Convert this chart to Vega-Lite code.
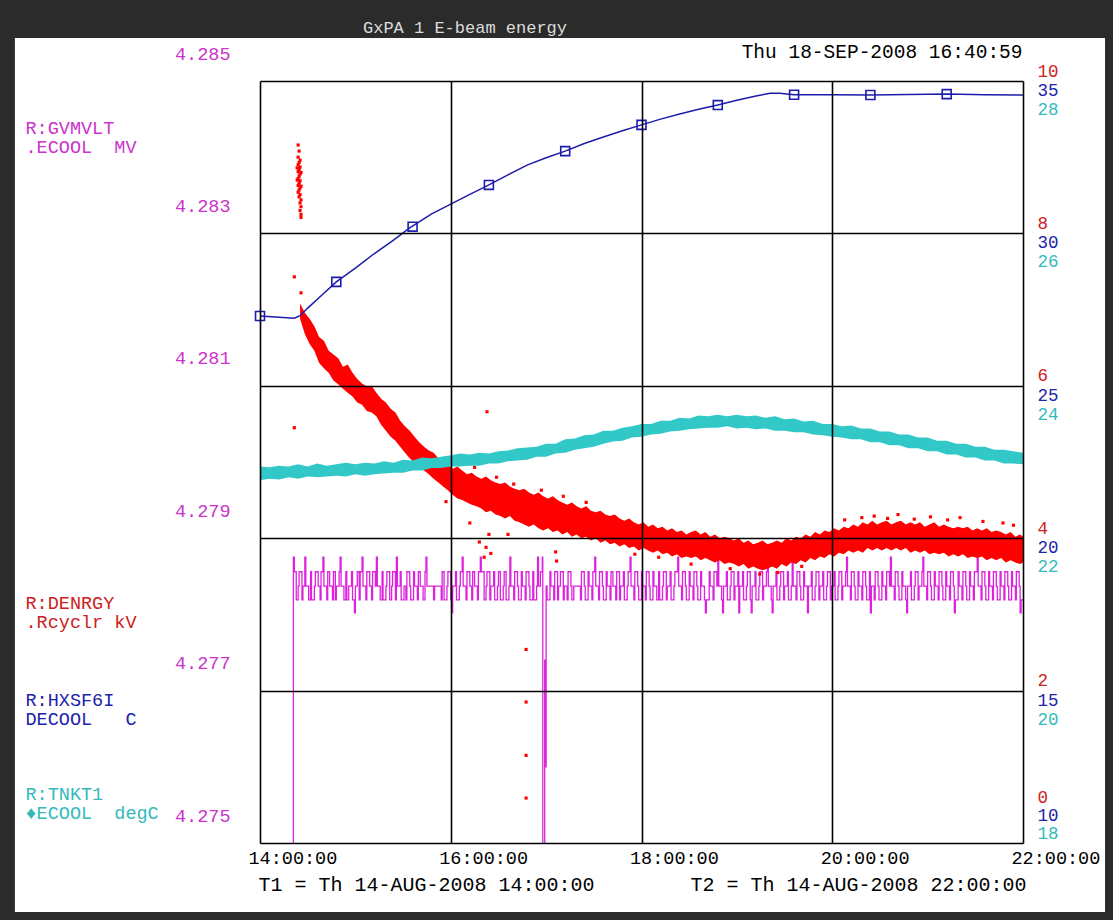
{
"$schema": "https://vega.github.io/schema/vega-lite/v6.json",
"width": 763, "height": 762,
"autosize": {"type": "none"},
"padding": {"left": 260, "top": 81, "right": 90, "bottom": 77},
"background": "#2b2b2b",
"config": {"view": {"stroke": null}, "axis": {"titleFontWeight": "normal", "labelFontWeight": "normal"}},
"datasets": {
"mv": [
{"t":14.34,"v":4.274},{"t":14.35,"v":4.27875},{"t":14.36,"v":4.27856},{"t":14.38,"v":4.27819},{"t":14.40,"v":4.27837},{"t":14.41,"v":4.27856},{"t":14.44,"v":4.27819},{"t":14.45,"v":4.27837},{"t":14.47,"v":4.27875},{"t":14.48,"v":4.27837},{"t":14.51,"v":4.27819},{"t":14.53,"v":4.27856},{"t":14.54,"v":4.27819},{"t":14.57,"v":4.27837},{"t":14.58,"v":4.27856},{"t":14.61,"v":4.27837},{"t":14.63,"v":4.27819},{"t":14.64,"v":4.27856},{"t":14.66,"v":4.27875},{"t":14.67,"v":4.27837},{"t":14.70,"v":4.27819},{"t":14.71,"v":4.27856},{"t":14.73,"v":4.27837},{"t":14.76,"v":4.27819},{"t":14.77,"v":4.27856},{"t":14.79,"v":4.27819},{"t":14.80,"v":4.27837},{"t":14.83,"v":4.27856},{"t":14.84,"v":4.27875},{"t":14.85,"v":4.27837},{"t":14.88,"v":4.27819},{"t":14.90,"v":4.27856},{"t":14.91,"v":4.27819},{"t":14.93,"v":4.27837},{"t":14.96,"v":4.27856},{"t":14.97,"v":4.27819},{"t":14.99,"v":4.27802},{"t":15.00,"v":4.27837},{"t":15.02,"v":4.27856},{"t":15.04,"v":4.27819},{"t":15.05,"v":4.27856},{"t":15.07,"v":4.27875},{"t":15.08,"v":4.27837},{"t":15.11,"v":4.27819},{"t":15.12,"v":4.27856},{"t":15.15,"v":4.27837},{"t":15.17,"v":4.27819},{"t":15.18,"v":4.27856},{"t":15.21,"v":4.27837},{"t":15.22,"v":4.27875},{"t":15.23,"v":4.27837},{"t":15.26,"v":4.27819},{"t":15.28,"v":4.27856},{"t":15.29,"v":4.27819},{"t":15.32,"v":4.27837},{"t":15.33,"v":4.27856},{"t":15.36,"v":4.27819},{"t":15.38,"v":4.27837},{"t":15.39,"v":4.27856},{"t":15.42,"v":4.27819},{"t":15.43,"v":4.27875},{"t":15.44,"v":4.27837},{"t":15.47,"v":4.27856},{"t":15.48,"v":4.27819},{"t":15.51,"v":4.27837},{"t":15.53,"v":4.27819},{"t":15.54,"v":4.27856},{"t":15.57,"v":4.27837},{"t":15.58,"v":4.27819},{"t":15.61,"v":4.27856},{"t":15.62,"v":4.27837},{"t":15.65,"v":4.27819},{"t":15.66,"v":4.27856},{"t":15.68,"v":4.27837},{"t":15.71,"v":4.27819},{"t":15.73,"v":4.27856},{"t":15.74,"v":4.27875},{"t":15.75,"v":4.27837},{"t":15.82,"v":4.27819},{"t":15.83,"v":4.27837},{"t":15.90,"v":4.27819},{"t":15.91,"v":4.27856},{"t":15.93,"v":4.27819},{"t":15.96,"v":4.27837},{"t":15.97,"v":4.27856},{"t":16.00,"v":4.27819},{"t":16.01,"v":4.27802},{"t":16.02,"v":4.27837},{"t":16.05,"v":4.27856},{"t":16.06,"v":4.27819},{"t":16.09,"v":4.27837},{"t":16.10,"v":4.27856},{"t":16.12,"v":4.27875},{"t":16.13,"v":4.27837},{"t":16.16,"v":4.27819},{"t":16.17,"v":4.27856},{"t":16.20,"v":4.27837},{"t":16.22,"v":4.27819},{"t":16.23,"v":4.27856},{"t":16.25,"v":4.27837},{"t":16.28,"v":4.27819},{"t":16.29,"v":4.27856},{"t":16.31,"v":4.27875},{"t":16.32,"v":4.27856},{"t":16.35,"v":4.27819},{"t":16.37,"v":4.27837},{"t":16.38,"v":4.27856},{"t":16.41,"v":4.27819},{"t":16.42,"v":4.27837},{"t":16.45,"v":4.27856},{"t":16.46,"v":4.27819},{"t":16.49,"v":4.27837},{"t":16.50,"v":4.27856},{"t":16.52,"v":4.27819},{"t":16.55,"v":4.27837},{"t":16.56,"v":4.27856},{"t":16.58,"v":4.27819},{"t":16.61,"v":4.27837},{"t":16.62,"v":4.27875},{"t":16.63,"v":4.27837},{"t":16.66,"v":4.27819},{"t":16.67,"v":4.27856},{"t":16.70,"v":4.27837},{"t":16.71,"v":4.27819},{"t":16.74,"v":4.27856},{"t":16.75,"v":4.27837},{"t":16.78,"v":4.27819},{"t":16.79,"v":4.27856},{"t":16.82,"v":4.27837},{"t":16.83,"v":4.27819},{"t":16.86,"v":4.27856},{"t":16.87,"v":4.27819},{"t":16.90,"v":4.27837},{"t":16.91,"v":4.27875},{"t":16.92,"v":4.27837},{"t":16.94,"v":4.27856},{"t":16.96,"v":4.27875},{"t":16.965,"v":4.274},{"t":16.985,"v":4.2774},{"t":16.99,"v":4.276},{"t":17.00,"v":4.27837},{"t":17.01,"v":4.27819},{"t":17.04,"v":4.27856},{"t":17.05,"v":4.27837},{"t":17.08,"v":4.27819},{"t":17.09,"v":4.27856},{"t":17.12,"v":4.27819},{"t":17.13,"v":4.27837},{"t":17.15,"v":4.27856},{"t":17.18,"v":4.27819},{"t":17.19,"v":4.27837},{"t":17.22,"v":4.27819},{"t":17.23,"v":4.27856},{"t":17.26,"v":4.27837},{"t":17.27,"v":4.27819},{"t":17.29,"v":4.27837},{"t":17.36,"v":4.27819},{"t":17.37,"v":4.27856},{"t":17.40,"v":4.27837},{"t":17.41,"v":4.27819},{"t":17.44,"v":4.27856},{"t":17.45,"v":4.27837},{"t":17.48,"v":4.27819},{"t":17.49,"v":4.27856},{"t":17.51,"v":4.27875},{"t":17.52,"v":4.27837},{"t":17.55,"v":4.27819},{"t":17.56,"v":4.27856},{"t":17.59,"v":4.27837},{"t":17.60,"v":4.27819},{"t":17.63,"v":4.27856},{"t":17.64,"v":4.27837},{"t":17.67,"v":4.27819},{"t":17.68,"v":4.27856},{"t":17.70,"v":4.27837},{"t":17.73,"v":4.27819},{"t":17.74,"v":4.27856},{"t":17.77,"v":4.27819},{"t":17.78,"v":4.27837},{"t":17.81,"v":4.27856},{"t":17.82,"v":4.27819},{"t":17.85,"v":4.27837},{"t":17.86,"v":4.27856},{"t":17.88,"v":4.27875},{"t":17.89,"v":4.27837},{"t":17.92,"v":4.27819},{"t":17.93,"v":4.27856},{"t":17.96,"v":4.27837},{"t":17.97,"v":4.27819},{"t":18.00,"v":4.27856},{"t":18.01,"v":4.27837},{"t":18.04,"v":4.27819},{"t":18.05,"v":4.27856},{"t":18.08,"v":4.27837},{"t":18.09,"v":4.27819},{"t":18.12,"v":4.27856},{"t":18.13,"v":4.27837},{"t":18.16,"v":4.27819},{"t":18.18,"v":4.27856},{"t":18.19,"v":4.27819},{"t":18.22,"v":4.27837},{"t":18.23,"v":4.27856},{"t":18.26,"v":4.27819},{"t":18.27,"v":4.27837},{"t":18.30,"v":4.27856},{"t":18.31,"v":4.27819},{"t":18.34,"v":4.27837},{"t":18.35,"v":4.27856},{"t":18.38,"v":4.27875},{"t":18.39,"v":4.27837},{"t":18.42,"v":4.27819},{"t":18.43,"v":4.27856},{"t":18.46,"v":4.27837},{"t":18.47,"v":4.27819},{"t":18.50,"v":4.27856},{"t":18.51,"v":4.27837},{"t":18.54,"v":4.27819},{"t":18.55,"v":4.27856},{"t":18.58,"v":4.27837},{"t":18.59,"v":4.27819},{"t":18.62,"v":4.27856},{"t":18.63,"v":4.27837},{"t":18.66,"v":4.27819},{"t":18.67,"v":4.27802},{"t":18.68,"v":4.27819},{"t":18.71,"v":4.27856},{"t":18.72,"v":4.27837},{"t":18.75,"v":4.27819},{"t":18.76,"v":4.27856},{"t":18.79,"v":4.27837},{"t":18.80,"v":4.27875},{"t":18.81,"v":4.27837},{"t":18.84,"v":4.27819},{"t":18.85,"v":4.27802},{"t":18.86,"v":4.27837},{"t":18.89,"v":4.27856},{"t":18.90,"v":4.27819},{"t":18.93,"v":4.27837},{"t":18.94,"v":4.27856},{"t":18.97,"v":4.27819},{"t":18.98,"v":4.27837},{"t":19.01,"v":4.27856},{"t":19.02,"v":4.27802},{"t":19.03,"v":4.27837},{"t":19.06,"v":4.27856},{"t":19.07,"v":4.27819},{"t":19.10,"v":4.27837},{"t":19.11,"v":4.27856},{"t":19.14,"v":4.27819},{"t":19.15,"v":4.27802},{"t":19.16,"v":4.27837},{"t":19.19,"v":4.27856},{"t":19.20,"v":4.27819},{"t":19.23,"v":4.27837},{"t":19.24,"v":4.27856},{"t":19.27,"v":4.27819},{"t":19.28,"v":4.27837},{"t":19.31,"v":4.27856},{"t":19.32,"v":4.27875},{"t":19.33,"v":4.27837},{"t":19.36,"v":4.27819},{"t":19.37,"v":4.27802},{"t":19.38,"v":4.27837},{"t":19.41,"v":4.27856},{"t":19.42,"v":4.27819},{"t":19.45,"v":4.27837},{"t":19.46,"v":4.27856},{"t":19.49,"v":4.27819},{"t":19.50,"v":4.27837},{"t":19.53,"v":4.27856},{"t":19.54,"v":4.27819},{"t":19.57,"v":4.27837},{"t":19.58,"v":4.27875},{"t":19.59,"v":4.27837},{"t":19.62,"v":4.27819},{"t":19.63,"v":4.27856},{"t":19.66,"v":4.27837},{"t":19.67,"v":4.27819},{"t":19.70,"v":4.27856},{"t":19.71,"v":4.27837},{"t":19.74,"v":4.27802},{"t":19.75,"v":4.27837},{"t":19.78,"v":4.27856},{"t":19.79,"v":4.27819},{"t":19.82,"v":4.27837},{"t":19.83,"v":4.27856},{"t":19.86,"v":4.27819},{"t":19.87,"v":4.27837},{"t":19.90,"v":4.27856},{"t":19.91,"v":4.27819},{"t":19.94,"v":4.27837},{"t":19.95,"v":4.27856},{"t":19.98,"v":4.27819},{"t":19.99,"v":4.27837},{"t":20.02,"v":4.27856},{"t":20.03,"v":4.27819},{"t":20.06,"v":4.27837},{"t":20.07,"v":4.27856},{"t":20.10,"v":4.27819},{"t":20.11,"v":4.27837},{"t":20.14,"v":4.27856},{"t":20.15,"v":4.27875},{"t":20.16,"v":4.27837},{"t":20.19,"v":4.27819},{"t":20.20,"v":4.27856},{"t":20.23,"v":4.27837},{"t":20.24,"v":4.27819},{"t":20.27,"v":4.27856},{"t":20.28,"v":4.27837},{"t":20.31,"v":4.27819},{"t":20.32,"v":4.27856},{"t":20.35,"v":4.27837},{"t":20.36,"v":4.27819},{"t":20.39,"v":4.27856},{"t":20.40,"v":4.27802},{"t":20.41,"v":4.27837},{"t":20.44,"v":4.27819},{"t":20.45,"v":4.27856},{"t":20.48,"v":4.27837},{"t":20.49,"v":4.27819},{"t":20.52,"v":4.27856},{"t":20.53,"v":4.27837},{"t":20.56,"v":4.27819},{"t":20.57,"v":4.27856},{"t":20.60,"v":4.27837},{"t":20.61,"v":4.27875},{"t":20.62,"v":4.27837},{"t":20.65,"v":4.27819},{"t":20.66,"v":4.27856},{"t":20.69,"v":4.27837},{"t":20.70,"v":4.27819},{"t":20.73,"v":4.27856},{"t":20.74,"v":4.27837},{"t":20.77,"v":4.27819},{"t":20.78,"v":4.27802},{"t":20.79,"v":4.27837},{"t":20.82,"v":4.27856},{"t":20.83,"v":4.27819},{"t":20.86,"v":4.27837},{"t":20.87,"v":4.27856},{"t":20.90,"v":4.27819},{"t":20.91,"v":4.27837},{"t":20.94,"v":4.27856},{"t":20.95,"v":4.27875},{"t":20.96,"v":4.27837},{"t":20.99,"v":4.27819},{"t":21.00,"v":4.27856},{"t":21.03,"v":4.27837},{"t":21.04,"v":4.27819},{"t":21.07,"v":4.27856},{"t":21.08,"v":4.27837},{"t":21.11,"v":4.27819},{"t":21.12,"v":4.27856},{"t":21.15,"v":4.27837},{"t":21.16,"v":4.27819},{"t":21.19,"v":4.27856},{"t":21.20,"v":4.27837},{"t":21.23,"v":4.27819},{"t":21.24,"v":4.27856},{"t":21.27,"v":4.27837},{"t":21.28,"v":4.27802},{"t":21.29,"v":4.27819},{"t":21.32,"v":4.27856},{"t":21.33,"v":4.27837},{"t":21.36,"v":4.27819},{"t":21.37,"v":4.27856},{"t":21.40,"v":4.27837},{"t":21.41,"v":4.27819},{"t":21.44,"v":4.27856},{"t":21.45,"v":4.27837},{"t":21.48,"v":4.27819},{"t":21.49,"v":4.27856},{"t":21.52,"v":4.27875},{"t":21.53,"v":4.27837},{"t":21.56,"v":4.27819},{"t":21.57,"v":4.27856},{"t":21.60,"v":4.27837},{"t":21.61,"v":4.27819},{"t":21.64,"v":4.27856},{"t":21.65,"v":4.27837},{"t":21.68,"v":4.27819},{"t":21.69,"v":4.27856},{"t":21.72,"v":4.27837},{"t":21.73,"v":4.27819},{"t":21.76,"v":4.27856},{"t":21.77,"v":4.27837},{"t":21.80,"v":4.27819},{"t":21.81,"v":4.27856},{"t":21.84,"v":4.27837},{"t":21.85,"v":4.27819},{"t":21.88,"v":4.27856},{"t":21.89,"v":4.27837},{"t":21.92,"v":4.27819},{"t":21.93,"v":4.27856},{"t":21.96,"v":4.27837},{"t":21.97,"v":4.27802},{"t":21.98,"v":4.27819},{"t":22.00,"v":4.27819}
],
"kv": [
{"t":14.42,"lo":6.88,"hi":7.08},{"t":14.47,"lo":6.68,"hi":6.96},{"t":14.52,"lo":6.55,"hi":6.88},{"t":14.57,"lo":6.46,"hi":6.78},{"t":14.62,"lo":6.30,"hi":6.64},{"t":14.67,"lo":6.23,"hi":6.59},{"t":14.72,"lo":6.17,"hi":6.46},{"t":14.77,"lo":6.07,"hi":6.41},{"t":14.82,"lo":6.02,"hi":6.36},{"t":14.87,"lo":5.96,"hi":6.25},{"t":14.92,"lo":5.91,"hi":6.28},{"t":14.97,"lo":5.86,"hi":6.17},{"t":15.02,"lo":5.78,"hi":6.09},{"t":15.07,"lo":5.75,"hi":6.03},{"t":15.12,"lo":5.67,"hi":5.99},{"t":15.17,"lo":5.65,"hi":6.00},{"t":15.22,"lo":5.60,"hi":5.91},{"t":15.27,"lo":5.49,"hi":5.83},{"t":15.32,"lo":5.41,"hi":5.78},{"t":15.37,"lo":5.33,"hi":5.70},{"t":15.42,"lo":5.28,"hi":5.65},{"t":15.47,"lo":5.20,"hi":5.54},{"t":15.52,"lo":5.12,"hi":5.47},{"t":15.57,"lo":5.05,"hi":5.41},{"t":15.62,"lo":4.99,"hi":5.33},{"t":15.67,"lo":4.94,"hi":5.26},{"t":15.72,"lo":4.89,"hi":5.20},{"t":15.77,"lo":4.84,"hi":5.15},{"t":15.82,"lo":4.78,"hi":5.12},{"t":15.87,"lo":4.73,"hi":5.05},{"t":15.92,"lo":4.68,"hi":5.02},{"t":15.97,"lo":4.63,"hi":4.97},{"t":16.02,"lo":4.57,"hi":4.91},{"t":16.07,"lo":4.52,"hi":4.94},{"t":16.12,"lo":4.50,"hi":4.89},{"t":16.17,"lo":4.47,"hi":4.84},{"t":16.22,"lo":4.44,"hi":4.86},{"t":16.27,"lo":4.42,"hi":4.81},{"t":16.32,"lo":4.39,"hi":4.78},{"t":16.37,"lo":4.34,"hi":4.81},{"t":16.42,"lo":4.36,"hi":4.76},{"t":16.47,"lo":4.31,"hi":4.73},{"t":16.52,"lo":4.29,"hi":4.71},{"t":16.57,"lo":4.26,"hi":4.73},{"t":16.62,"lo":4.29,"hi":4.68},{"t":16.67,"lo":4.23,"hi":4.65},{"t":16.72,"lo":4.21,"hi":4.63},{"t":16.77,"lo":4.18,"hi":4.65},{"t":16.82,"lo":4.15,"hi":4.60},{"t":16.87,"lo":4.18,"hi":4.57},{"t":16.92,"lo":4.13,"hi":4.60},{"t":16.97,"lo":4.10,"hi":4.55},{"t":17.02,"lo":4.13,"hi":4.52},{"t":17.07,"lo":4.08,"hi":4.55},{"t":17.12,"lo":4.10,"hi":4.50},{"t":17.17,"lo":4.05,"hi":4.47},{"t":17.22,"lo":4.08,"hi":4.44},{"t":17.27,"lo":4.02,"hi":4.47},{"t":17.32,"lo":4.05,"hi":4.42},{"t":17.37,"lo":4.00,"hi":4.39},{"t":17.42,"lo":4.02,"hi":4.42},{"t":17.47,"lo":3.97,"hi":4.36},{"t":17.52,"lo":4.00,"hi":4.34},{"t":17.57,"lo":3.94,"hi":4.36},{"t":17.62,"lo":3.97,"hi":4.31},{"t":17.67,"lo":3.92,"hi":4.29},{"t":17.72,"lo":3.94,"hi":4.31},{"t":17.77,"lo":3.89,"hi":4.26},{"t":17.82,"lo":3.92,"hi":4.23},{"t":17.87,"lo":3.87,"hi":4.26},{"t":17.92,"lo":3.89,"hi":4.21},{"t":17.97,"lo":3.84,"hi":4.18},{"t":18.02,"lo":3.87,"hi":4.21},{"t":18.07,"lo":3.84,"hi":4.15},{"t":18.12,"lo":3.81,"hi":4.18},{"t":18.17,"lo":3.84,"hi":4.13},{"t":18.22,"lo":3.79,"hi":4.15},{"t":18.27,"lo":3.81,"hi":4.10},{"t":18.32,"lo":3.76,"hi":4.13},{"t":18.37,"lo":3.79,"hi":4.08},{"t":18.42,"lo":3.74,"hi":4.10},{"t":18.47,"lo":3.76,"hi":4.05},{"t":18.52,"lo":3.74,"hi":4.08},{"t":18.57,"lo":3.76,"hi":4.10},{"t":18.62,"lo":3.71,"hi":4.05},{"t":18.67,"lo":3.74,"hi":4.08},{"t":18.72,"lo":3.71,"hi":4.02},{"t":18.77,"lo":3.68,"hi":4.05},{"t":18.82,"lo":3.71,"hi":4.00},{"t":18.87,"lo":3.66,"hi":4.02},{"t":18.92,"lo":3.68,"hi":4.00},{"t":18.97,"lo":3.66,"hi":3.97},{"t":19.02,"lo":3.63,"hi":4.00},{"t":19.07,"lo":3.66,"hi":3.94},{"t":19.12,"lo":3.60,"hi":3.97},{"t":19.17,"lo":3.63,"hi":3.92},{"t":19.22,"lo":3.60,"hi":3.94},{"t":19.27,"lo":3.58,"hi":3.97},{"t":19.32,"lo":3.60,"hi":3.92},{"t":19.37,"lo":3.63,"hi":3.94},{"t":19.42,"lo":3.60,"hi":3.97},{"t":19.47,"lo":3.66,"hi":3.94},{"t":19.52,"lo":3.63,"hi":4.00},{"t":19.57,"lo":3.68,"hi":3.97},{"t":19.62,"lo":3.66,"hi":4.02},{"t":19.67,"lo":3.71,"hi":4.00},{"t":19.72,"lo":3.68,"hi":4.05},{"t":19.77,"lo":3.74,"hi":4.02},{"t":19.82,"lo":3.71,"hi":4.08},{"t":19.87,"lo":3.76,"hi":4.05},{"t":19.92,"lo":3.74,"hi":4.10},{"t":19.97,"lo":3.79,"hi":4.08},{"t":20.02,"lo":3.76,"hi":4.13},{"t":20.07,"lo":3.81,"hi":4.10},{"t":20.12,"lo":3.79,"hi":4.15},{"t":20.17,"lo":3.84,"hi":4.13},{"t":20.22,"lo":3.81,"hi":4.18},{"t":20.27,"lo":3.84,"hi":4.15},{"t":20.32,"lo":3.81,"hi":4.21},{"t":20.37,"lo":3.87,"hi":4.18},{"t":20.42,"lo":3.84,"hi":4.23},{"t":20.47,"lo":3.87,"hi":4.18},{"t":20.52,"lo":3.84,"hi":4.21},{"t":20.57,"lo":3.87,"hi":4.23},{"t":20.62,"lo":3.84,"hi":4.18},{"t":20.67,"lo":3.87,"hi":4.21},{"t":20.72,"lo":3.84,"hi":4.23},{"t":20.77,"lo":3.87,"hi":4.18},{"t":20.82,"lo":3.81,"hi":4.21},{"t":20.87,"lo":3.84,"hi":4.18},{"t":20.92,"lo":3.81,"hi":4.21},{"t":20.97,"lo":3.84,"hi":4.15},{"t":21.02,"lo":3.79,"hi":4.18},{"t":21.07,"lo":3.81,"hi":4.21},{"t":21.12,"lo":3.79,"hi":4.15},{"t":21.17,"lo":3.81,"hi":4.18},{"t":21.22,"lo":3.76,"hi":4.15},{"t":21.27,"lo":3.79,"hi":4.13},{"t":21.32,"lo":3.76,"hi":4.15},{"t":21.37,"lo":3.79,"hi":4.13},{"t":21.42,"lo":3.74,"hi":4.15},{"t":21.47,"lo":3.76,"hi":4.10},{"t":21.52,"lo":3.74,"hi":4.13},{"t":21.57,"lo":3.76,"hi":4.10},{"t":21.62,"lo":3.71,"hi":4.13},{"t":21.67,"lo":3.74,"hi":4.08},{"t":21.72,"lo":3.71,"hi":4.10},{"t":21.77,"lo":3.74,"hi":4.08},{"t":21.82,"lo":3.68,"hi":4.05},{"t":21.87,"lo":3.71,"hi":4.08},{"t":21.92,"lo":3.68,"hi":4.02},{"t":21.97,"lo":3.66,"hi":4.05},{"t":22.00,"lo":3.68,"hi":4.02}
],
"kvpts": [
{"t":14.40,"v":9.16},{"t":14.41,"v":9.08},{"t":14.40,"v":9.00},{"t":14.42,"v":8.96},{"t":14.41,"v":8.93},{"t":14.40,"v":8.90},{"t":14.42,"v":8.87},{"t":14.41,"v":8.84},{"t":14.40,"v":8.81},{"t":14.42,"v":8.78},{"t":14.41,"v":8.75},{"t":14.40,"v":8.72},{"t":14.42,"v":8.69},{"t":14.41,"v":8.66},{"t":14.40,"v":8.63},{"t":14.42,"v":8.60},{"t":14.41,"v":8.57},{"t":14.40,"v":8.54},{"t":14.42,"v":8.51},{"t":14.41,"v":8.48},{"t":14.43,"v":8.44},{"t":14.42,"v":8.40},{"t":14.43,"v":8.35},{"t":14.42,"v":8.30},{"t":14.43,"v":8.25},{"t":14.43,"v":8.21},{"t":14.39,"v":8.86},{"t":14.39,"v":8.70},{"t":14.43,"v":8.62},{"t":14.43,"v":8.80},
{"t":14.36,"v":7.43},{"t":14.36,"v":5.45},{"t":14.43,"v":7.22},{"t":16.38,"v":5.66},{"t":16.35,"v":3.75},{"t":16.37,"v":3.88},{"t":16.40,"v":4.05},{"t":16.42,"v":3.80},{"t":16.30,"v":3.95},{"t":16.79,"v":2.54},{"t":16.79,"v":1.85},{"t":16.79,"v":1.15},{"t":16.79,"v":0.59},{"t":17.10,"v":3.82},{"t":17.11,"v":3.70},{"t":16.20,"v":4.20},{"t":15.95,"v":4.48},{"t":16.60,"v":4.05},
{"t":20.13,"v":4.24},{"t":20.31,"v":4.27},{"t":20.44,"v":4.29},{"t":20.58,"v":4.26},{"t":20.69,"v":4.31},{"t":20.86,"v":4.25},{"t":21.03,"v":4.28},{"t":21.21,"v":4.24},{"t":21.34,"v":4.27},{"t":21.58,"v":4.22},{"t":21.79,"v":4.20},{"t":21.90,"v":4.17},{"t":16.48,"v":4.80},{"t":16.66,"v":4.71},{"t":16.95,"v":4.63},{"t":17.18,"v":4.55},{"t":17.42,"v":4.47},{"t":16.25,"v":4.93},{"t":16.05,"v":5.00},{"t":18.52,"v":3.66},{"t":18.93,"v":3.60},{"t":19.24,"v":3.53},{"t":19.43,"v":3.55},{"t":19.68,"v":3.63},{"t":17.93,"v":3.79},{"t":18.18,"v":3.75}
],
"c": [
{"t":14.00,"v":27.29},{"t":14.20,"v":27.25},{"t":14.36,"v":27.22},{"t":14.42,"v":27.30},{"t":14.50,"v":27.55},{"t":14.65,"v":27.98},{"t":14.80,"v":28.41},{"t":15.00,"v":28.86},{"t":15.20,"v":29.34},{"t":15.40,"v":29.78},{"t":15.57,"v":30.18},{"t":15.80,"v":30.64},{"t":16.00,"v":30.96},{"t":16.20,"v":31.28},{"t":16.38,"v":31.56},{"t":16.60,"v":31.92},{"t":16.80,"v":32.24},{"t":17.00,"v":32.48},{"t":17.20,"v":32.70},{"t":17.40,"v":32.95},{"t":17.60,"v":33.16},{"t":17.80,"v":33.37},{"t":18.00,"v":33.56},{"t":18.20,"v":33.75},{"t":18.40,"v":33.92},{"t":18.60,"v":34.07},{"t":18.80,"v":34.21},{"t":19.00,"v":34.37},{"t":19.20,"v":34.51},{"t":19.35,"v":34.60},{"t":19.45,"v":34.60},{"t":19.60,"v":34.55},{"t":20.00,"v":34.55},{"t":20.40,"v":34.54},{"t":20.80,"v":34.56},{"t":21.20,"v":34.57},{"t":21.60,"v":34.55},{"t":22.00,"v":34.54}
],
"cm": [
{"t":14.0,"v":27.29},{"t":14.8,"v":28.41},{"t":15.6,"v":30.22},{"t":16.4,"v":31.59},{"t":17.2,"v":32.70},{"t":18.0,"v":33.56},{"t":18.8,"v":34.21},{"t":19.6,"v":34.55},{"t":20.4,"v":34.54},{"t":21.2,"v":34.57}
],
"degc": [
{"t":14.0,"lo":22.76,"hi":22.94},{"t":14.1,"lo":22.78,"hi":22.93},{"t":14.2,"lo":22.77,"hi":22.95},{"t":14.3,"lo":22.80,"hi":22.94},{"t":14.4,"lo":22.78,"hi":22.97},{"t":14.5,"lo":22.81,"hi":22.94},{"t":14.6,"lo":22.80,"hi":22.98},{"t":14.7,"lo":22.81,"hi":22.95},{"t":14.8,"lo":22.82,"hi":22.97},{"t":14.9,"lo":22.81,"hi":22.99},{"t":15.0,"lo":22.84,"hi":22.97},{"t":15.1,"lo":22.82,"hi":22.99},{"t":15.2,"lo":22.84,"hi":22.98},{"t":15.3,"lo":22.85,"hi":23.01},{"t":15.4,"lo":22.86,"hi":22.99},{"t":15.5,"lo":22.86,"hi":23.03},{"t":15.6,"lo":22.89,"hi":23.02},{"t":15.7,"lo":22.89,"hi":23.06},{"t":15.8,"lo":22.92,"hi":23.05},{"t":15.9,"lo":22.92,"hi":23.07},{"t":16.0,"lo":22.94,"hi":23.09},{"t":16.1,"lo":22.94,"hi":23.11},{"t":16.2,"lo":22.95,"hi":23.10},{"t":16.3,"lo":22.95,"hi":23.12},{"t":16.4,"lo":22.98,"hi":23.11},{"t":16.5,"lo":22.98,"hi":23.14},{"t":16.6,"lo":23.01,"hi":23.15},{"t":16.7,"lo":23.02,"hi":23.18},{"t":16.8,"lo":23.03,"hi":23.19},{"t":16.9,"lo":23.07,"hi":23.20},{"t":17.0,"lo":23.07,"hi":23.24},{"t":17.1,"lo":23.11,"hi":23.24},{"t":17.2,"lo":23.12,"hi":23.30},{"t":17.3,"lo":23.16,"hi":23.31},{"t":17.4,"lo":23.18,"hi":23.35},{"t":17.5,"lo":23.20,"hi":23.36},{"t":17.6,"lo":23.24,"hi":23.41},{"t":17.7,"lo":23.27,"hi":23.41},{"t":17.8,"lo":23.28,"hi":23.45},{"t":17.9,"lo":23.32,"hi":23.47},{"t":18.0,"lo":23.33,"hi":23.50},{"t":18.1,"lo":23.36,"hi":23.50},{"t":18.2,"lo":23.37,"hi":23.54},{"t":18.3,"lo":23.40,"hi":23.54},{"t":18.4,"lo":23.41,"hi":23.58},{"t":18.5,"lo":23.43,"hi":23.57},{"t":18.6,"lo":23.44,"hi":23.61},{"t":18.7,"lo":23.45,"hi":23.60},{"t":18.8,"lo":23.45,"hi":23.62},{"t":18.9,"lo":23.47,"hi":23.60},{"t":19.0,"lo":23.44,"hi":23.62},{"t":19.1,"lo":23.45,"hi":23.60},{"t":19.2,"lo":23.43,"hi":23.61},{"t":19.3,"lo":23.44,"hi":23.58},{"t":19.4,"lo":23.41,"hi":23.60},{"t":19.5,"lo":23.41,"hi":23.56},{"t":19.6,"lo":23.39,"hi":23.57},{"t":19.7,"lo":23.39,"hi":23.53},{"t":19.8,"lo":23.36,"hi":23.54},{"t":19.9,"lo":23.35,"hi":23.50},{"t":20.0,"lo":23.33,"hi":23.50},{"t":20.1,"lo":23.32,"hi":23.47},{"t":20.2,"lo":23.30,"hi":23.48},{"t":20.3,"lo":23.30,"hi":23.44},{"t":20.4,"lo":23.26,"hi":23.44},{"t":20.5,"lo":23.26,"hi":23.40},{"t":20.6,"lo":23.22,"hi":23.40},{"t":20.7,"lo":23.22,"hi":23.36},{"t":20.8,"lo":23.18,"hi":23.36},{"t":20.9,"lo":23.18,"hi":23.32},{"t":21.0,"lo":23.14,"hi":23.32},{"t":21.1,"lo":23.14,"hi":23.28},{"t":21.2,"lo":23.10,"hi":23.28},{"t":21.3,"lo":23.10,"hi":23.24},{"t":21.4,"lo":23.06,"hi":23.24},{"t":21.5,"lo":23.06,"hi":23.20},{"t":21.6,"lo":23.02,"hi":23.20},{"t":21.7,"lo":23.02,"hi":23.16},{"t":21.8,"lo":22.98,"hi":23.16},{"t":21.9,"lo":22.98,"hi":23.14},{"t":22.0,"lo":22.97,"hi":23.12}
]
},
"layer": [
{"data": {"values": [{}]},
 "mark": {"type": "rect", "color": "#ffffff", "clip": false},
 "encoding": {
  "x": {"datum": 11.43, "type": "quantitative", "scale": {"domain": [14, 22], "nice": false, "zero": false}, "axis": null},
  "x2": {"datum": 22.86},
  "y": {"datum": 4.285564, "type": "quantitative", "scale": {"domain": [4.275, 4.285], "nice": false, "zero": false}, "axis": null},
  "y2": {"datum": 4.274094}
 }},
{"data": {"name": "mv"},
 "mark": {"type": "line", "interpolate": "step-after", "color": "#dd22dd", "strokeWidth": 1.3, "clip": true},
 "encoding": {
  "x": {"field": "t", "type": "quantitative", "scale": {"domain": [14, 22], "nice": false, "zero": false},
   "axis": {"orient": "bottom", "values": [14, 16, 18, 20, 22], "labelExpr": "datum.value + ':00:00'", "grid": true, "gridColor": "#000000", "gridWidth": 1.6, "gridOpacity": 1, "domain": false, "ticks": false, "tickSize": 0, "labelFont": "Liberation Mono", "labelFontSize": 18.5, "labelColor": "#000000", "labelAlign": "left", "labelOffset": -12, "labelPadding": 5, "labelFlush": false, "labelOverlap": false, "labelBound": false, "title": "T1 = Th 14-AUG-2008 14:00:00\u00a0\u00a0\u00a0\u00a0\u00a0\u00a0\u00a0\u00a0T2 = Th 14-AUG-2008 22:00:00", "titleFont": "Liberation Mono", "titleFontSize": 20, "titleColor": "#000000", "titleAlign": "left", "titleAngle": 0, "titleBaseline": "middle", "titleX": -2, "titleY": 41, "zindex": 1}},
  "y": {"field": "v", "type": "quantitative", "scale": {"domain": [4.275, 4.285], "nice": false, "zero": false},
   "axis": {"orient": "left", "values": [4.275, 4.277, 4.279, 4.281, 4.283, 4.285], "format": ".3f", "grid": true, "gridColor": "#000000", "gridWidth": 1.6, "gridOpacity": 1, "domain": false, "ticks": false, "tickSize": 0, "labelFont": "Liberation Mono", "labelFontSize": 18.5, "labelColor": "#cc33cc", "labelPadding": 30, "labelOffset": -28, "labelFlush": false, "labelOverlap": false, "labelBound": false, "title": ["R:GVMVLT", ".ECOOL\u00a0\u00a0MV"], "titleFont": "Liberation Mono", "titleFontSize": 18.5, "titleLineHeight": 19.5, "titleColor": "#cc33cc", "titleAngle": 0, "titleAlign": "left", "titleBaseline": "top", "titleX": -235, "titleY": 37, "zindex": 1}}
 }},
{"data": {"name": "kv"},
 "mark": {"type": "area", "color": "#ff0000", "opacity": 1, "clip": true},
 "encoding": {
  "x": {"field": "t", "type": "quantitative", "scale": {"domain": [14, 22], "nice": false, "zero": false},
   "axis": {"orient": "top", "labels": false, "ticks": false, "domain": false, "grid": false, "title": "GxPA 1 E-beam energy", "titleFont": "Liberation Mono", "titleFontSize": 17, "titleColor": "#dcdcdc", "titleAlign": "center", "titleAngle": 0, "titleBaseline": "middle", "titleX": 204.5, "titleY": -54, "zindex": 1}},
  "y": {"field": "hi", "type": "quantitative", "scale": {"domain": [0, 10], "nice": false, "zero": false},
   "axis": {"orient": "right", "values": [0, 2, 4, 6, 8, 10], "grid": false, "domain": false, "ticks": false, "tickSize": 0, "labelFont": "Liberation Mono", "labelFontSize": 17.5, "labelColor": "#cc2222", "labelAlign": "left", "labelPadding": 14, "labelOffset": {"condition": {"test": "datum.value == 0", "value": -46}, "value": -10}, "labelFlush": false, "labelOverlap": false, "labelBound": false, "title": ["R:DENRGY", ".Rcyclr\u00a0kV"], "titleFont": "Liberation Mono", "titleFontSize": 18.5, "titleLineHeight": 19.5, "titleColor": "#cc2222", "titleAngle": 0, "titleAlign": "left", "titleBaseline": "top", "titleX": -998, "titleY": 512, "zindex": 1}},
  "y2": {"field": "lo"}
 }},
{"data": {"name": "kvpts"},
 "mark": {"type": "point", "shape": "square", "filled": true, "color": "#ff0000", "size": 10, "opacity": 1, "clip": true},
 "encoding": {
  "x": {"field": "t", "type": "quantitative", "scale": {"domain": [14, 22], "nice": false, "zero": false}, "axis": null},
  "y": {"field": "v", "type": "quantitative", "scale": {"domain": [0, 10], "nice": false, "zero": false}, "axis": null}
 }},
{"data": {"name": "c"},
 "mark": {"type": "line", "color": "#1c1caa", "strokeWidth": 1.5, "clip": true},
 "encoding": {
  "x": {"field": "t", "type": "quantitative", "scale": {"domain": [14, 22], "nice": false, "zero": false},
   "axis": {"orient": "top", "labels": false, "ticks": false, "domain": false, "grid": false, "title": "Thu 18-SEP-2008 16:40:59", "titleFont": "Liberation Mono", "titleFontSize": 19.5, "titleColor": "#000000", "titleAlign": "right", "titleAngle": 0, "titleBaseline": "middle", "titleX": 762, "titleY": -30, "zindex": 1}},
  "y": {"field": "v", "type": "quantitative", "scale": {"domain": [10, 35], "nice": false, "zero": false},
   "axis": {"orient": "right", "values": [10, 15, 20, 25, 30, 35], "grid": false, "domain": false, "ticks": false, "tickSize": 0, "labelFont": "Liberation Mono", "labelFontSize": 17.5, "labelColor": "#2222aa", "labelAlign": "left", "labelPadding": 14, "labelOffset": {"condition": {"test": "datum.value == 10", "value": -28}, "value": 9.5}, "labelFlush": false, "labelOverlap": false, "labelBound": false, "title": ["R:HXSF6I", "DECOOL\u00a0\u00a0\u00a0C"], "titleFont": "Liberation Mono", "titleFontSize": 18.5, "titleLineHeight": 19.5, "titleColor": "#2222aa", "titleAngle": 0, "titleAlign": "left", "titleBaseline": "top", "titleX": -998, "titleY": 609, "zindex": 1}}
 }},
{"data": {"name": "cm"},
 "mark": {"type": "point", "shape": "square", "filled": false, "color": "#1c1caa", "size": 80, "strokeWidth": 1.6, "opacity": 1, "clip": false},
 "encoding": {
  "x": {"field": "t", "type": "quantitative", "scale": {"domain": [14, 22], "nice": false, "zero": false}, "axis": null},
  "y": {"field": "v", "type": "quantitative", "scale": {"domain": [10, 35], "nice": false, "zero": false}, "axis": null}
 }},
{"data": {"name": "degc"},
 "mark": {"type": "area", "color": "#33c8c8", "opacity": 1, "clip": true},
 "encoding": {
  "x": {"field": "t", "type": "quantitative", "scale": {"domain": [14, 22], "nice": false, "zero": false}, "axis": null},
  "y": {"field": "hi", "type": "quantitative", "scale": {"domain": [18, 28], "nice": false, "zero": false},
   "axis": {"orient": "right", "values": [18, 20, 22, 24, 26, 28], "grid": false, "domain": false, "ticks": false, "tickSize": 0, "labelFont": "Liberation Mono", "labelFontSize": 17.5, "labelColor": "#33bbbb", "labelAlign": "left", "labelPadding": 14, "labelOffset": {"condition": {"test": "datum.value == 18", "value": -10}, "value": 28.5}, "labelFlush": false, "labelOverlap": false, "labelBound": false, "title": ["R:TNKT1", "\u2666ECOOL\u00a0\u00a0degC"], "titleFont": "Liberation Mono", "titleFontSize": 18.5, "titleLineHeight": 19.5, "titleColor": "#33bbbb", "titleAngle": 0, "titleAlign": "left", "titleBaseline": "top", "titleX": -998, "titleY": 703, "zindex": 1}},
  "y2": {"field": "lo"}
 }}
],
"resolve": {"scale": {"y": "independent"}, "axis": {"x": "independent", "y": "independent"}}
}
